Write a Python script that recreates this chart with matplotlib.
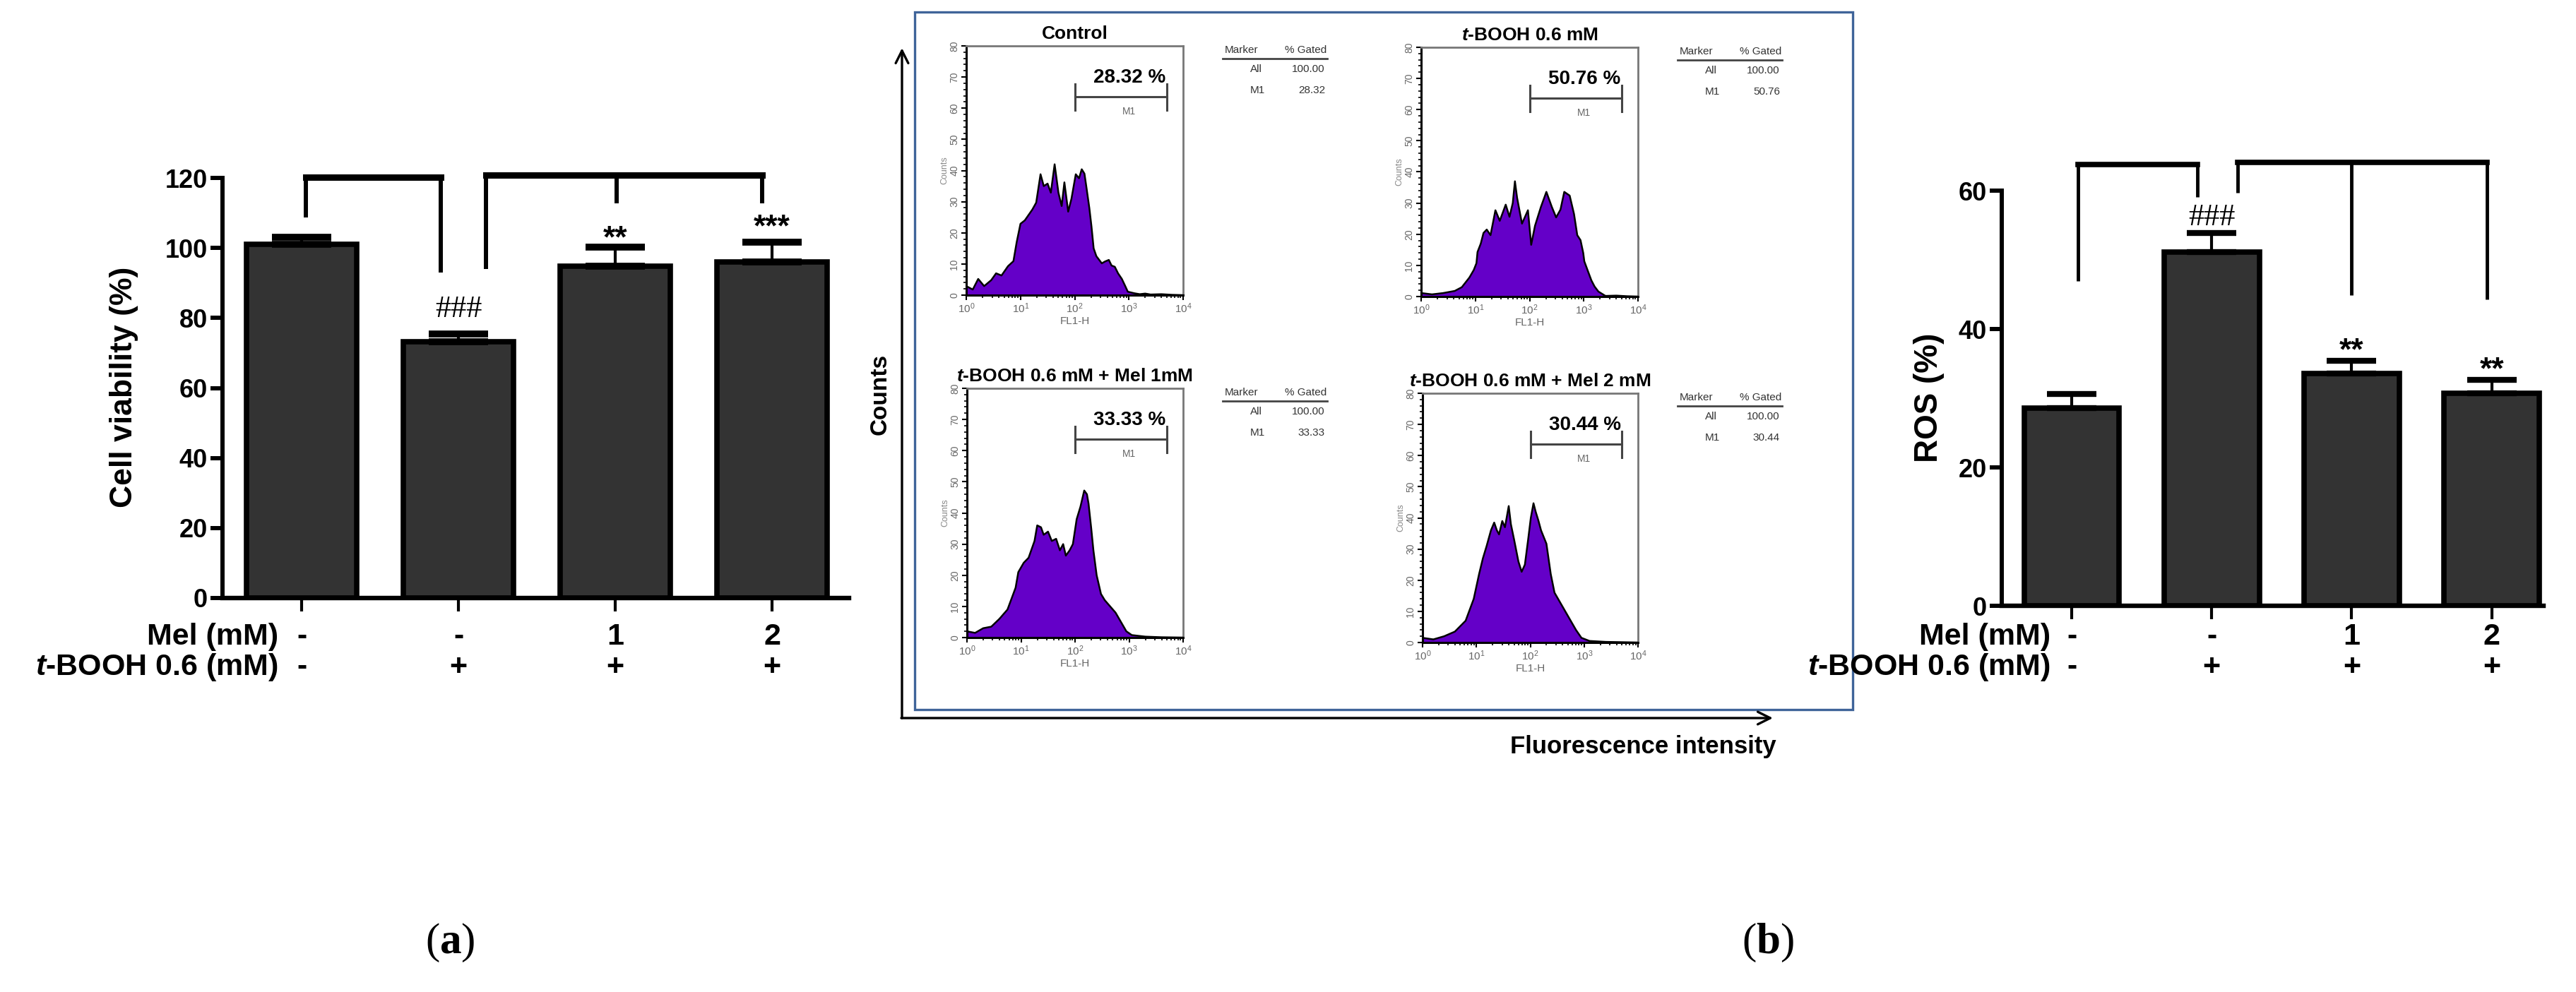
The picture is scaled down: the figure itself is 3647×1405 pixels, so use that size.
import numpy as np
import matplotlib
matplotlib.use('Agg')
import matplotlib.pyplot as plt
from matplotlib.patches import Rectangle
from matplotlib.ticker import MultipleLocator
from matplotlib.transforms import blended_transform_factory

plt.rcParams['font.family'] = ['Liberation Sans', 'DejaVu Sans']
plt.rcParams['mathtext.fontset'] = 'custom'
plt.rcParams['mathtext.rm'] = 'Liberation Sans'
plt.rcParams['mathtext.it'] = 'Liberation Sans:italic:bold'
plt.rcParams['mathtext.bf'] = 'Liberation Serif:bold'
plt.rcParams['mathtext.sf'] = 'Liberation Sans'

# ---------------- data ----------------
mel_labels = ['-', '-', '1', '2']
tbooh_labels = ['-', '+', '+', '+']

viability = [101.0, 73.2, 94.8, 96.0]
viability_err = [2.0, 2.3, 5.4, 5.6]
viab_marks = ['', '###', '**', '***']
viab_mark_y = [0, 82.4, 105.0, 108.3]
# brackets: leg x positions, leg bottoms, top level
viab_br1_x = [0.027, 0.887]
viab_br1_bottom = [108.7, 92.9]
viab_br1_top = 120.3
viab_br2_x = [1.176, 2.009, 2.937]
viab_br2_bottom = [93.9, 112.8, 112.8]
viab_br2_top = 120.9

ros = [28.6, 51.1, 33.6, 30.7]
ros_err = [2.0, 2.8, 1.8, 2.0]
ros_marks = ['', '###', '**', '**']
ros_mark_y = [0, 56.1, 38.0, 35.3]
ros_br1_x = [0.045, 0.90]
ros_br1_bottom = [46.9, 59.1]
ros_br1_top = 63.8
ros_br2_x = [1.185, 2.0, 2.965]
ros_br2_bottom = [59.7, 44.9, 44.3]
ros_br2_top = 64.1

flow_titles = ['Control', r'$\it{t}$-BOOH 0.6 mM',
               r'$\it{t}$-BOOH 0.6 mM + Mel 1mM', r'$\it{t}$-BOOH 0.6 mM + Mel 2 mM']
gated_pct = [28.32, 50.76, 33.33, 30.44]

# histogram outlines: log10(FL1-H) and counts
ctrl_log_fl = [0.0, 0.12, 0.22, 0.33, 0.46, 0.55, 0.65, 0.77, 0.87, 0.93, 1.0, 1.08, 1.16, 1.22,
               1.29, 1.37, 1.43, 1.5, 1.56, 1.63, 1.70, 1.76, 1.81, 1.88, 1.94, 2.02, 2.08, 2.13,
               2.18, 2.22, 2.27, 2.31, 2.35, 2.4, 2.5, 2.56, 2.63, 2.68, 2.74, 2.8, 2.87, 2.93,
               2.98, 3.1, 3.2, 3.3, 3.4, 3.6, 3.8, 4.0]
ctrl_counts = [2.9, 1.8, 5.2, 2.9, 4.8, 7.0, 6.3, 9.3, 10.9, 17.0, 22.9, 24.0, 26.0, 27.5,
               29.7, 38.8, 35.0, 35.8, 32.9, 42.0, 32.9, 28.6, 36.2, 26.8, 30.9, 38.8, 37.5, 40.4,
               39.0, 34.2, 28.0, 22.0, 15.0, 12.5, 10.2, 10.8, 11.3, 9.5, 9.1, 7.0, 5.2, 3.0,
               1.1, 0.6, 0.3, 0.5, 0.2, 0.3, 0.1, 0.0]

tb_log_fl = [0.01, 0.2, 0.4, 0.62, 0.75, 0.89, 0.97, 1.02, 1.04, 1.1, 1.15, 1.21, 1.28, 1.37,
             1.45, 1.56, 1.63, 1.69, 1.73, 1.77, 1.86, 1.97, 2.03, 2.1, 2.21, 2.31, 2.41, 2.49,
             2.57, 2.64, 2.74, 2.82, 2.88, 2.94, 2.99, 3.01, 3.08, 3.14, 3.2, 3.27, 3.4, 3.6,
             3.8, 4.0]
tb_counts = [1.1, 0.7, 1.1, 1.8, 3.0, 6.1, 8.5, 10.7, 14.3, 17.0, 20.4, 21.5, 19.7, 27.7,
             24.3, 29.5, 25.6, 30.0, 37.0, 31.7, 23.4, 27.7, 16.6, 22.7, 28.8, 33.6, 28.8, 25.4,
             27.9, 33.6, 32.4, 26.5, 19.7, 18.1, 14.0, 11.3, 8.0, 5.2, 3.2, 1.6, 0.2, 0.3,
             0.1, 0.0]

mel1_log_fl = [0.0, 0.15, 0.3, 0.45, 0.6, 0.75, 0.9, 0.95, 1.05, 1.14, 1.25, 1.3, 1.37, 1.42,
               1.5, 1.57, 1.65, 1.72, 1.78, 1.83, 1.9, 1.96, 2.03, 2.1, 2.17, 2.22, 2.25, 2.3,
               2.34, 2.4, 2.48, 2.55, 2.65, 2.75, 2.85, 2.95, 3.05, 3.3, 3.6, 4.0]
mel1_counts = [2.0, 1.5, 3.0, 3.5, 6.0, 9.0, 16.0, 21.0, 24.0, 25.6, 31.0, 36.0, 35.4, 33.0,
               34.0, 31.0, 31.7, 28.0, 30.0, 26.3, 28.0, 30.0, 38.0, 42.0, 47.2, 46.0, 43.0, 35.0,
               28.0, 20.0, 14.0, 12.0, 10.0, 8.0, 5.0, 2.0, 0.8, 0.3, 0.1, 0.0]

mel2_log_fl = [0.0, 0.2, 0.4, 0.6, 0.8, 0.95, 1.05, 1.12, 1.19, 1.27, 1.33, 1.38, 1.42, 1.48,
               1.53, 1.6, 1.64, 1.7, 1.78, 1.84, 1.9, 1.96, 2.01, 2.06, 2.1, 2.15, 2.2, 2.3,
               2.38, 2.45, 2.55, 2.65, 2.75, 2.85, 2.95, 3.1, 3.4, 4.0]
mel2_counts = [1.5, 1.0, 2.0, 3.5, 7.0, 14.0, 22.0, 27.0, 31.0, 36.0, 38.5, 36.0, 34.7, 39.0,
               37.0, 43.8, 38.0, 33.0, 26.0, 22.7, 25.0, 33.0, 40.0, 44.7, 42.0, 39.2, 36.0, 31.7,
               22.0, 16.0, 13.0, 10.0, 7.0, 4.0, 1.5, 0.5, 0.2, 0.0]

# ---------------- layout ----------------
W, H = 3647, 1405
DPI = 100


def px_rect(x0, y0, x1, y1):
    return [x0 / W, 1 - y1 / H, (x1 - x0) / W, (y1 - y0) / H]


fig = plt.figure(figsize=(W / DPI, H / DPI), dpi=DPI)
fig.patch.set_facecolor('white')
ov = fig.add_axes([0, 0, 1, 1], zorder=0)
ov.set_xlim(0, W)
ov.set_ylim(H, 0)
ov.axis('off')


def bar_panel(rect, vals, errs, ylim, yticks, width, capsize, capthick,
              marks, mark_y, br1, br2, xlim, row_x, top_lw, leg_lw):
    ax = fig.add_axes(rect, zorder=2)
    ax.patch.set_alpha(0)
    x = np.arange(len(vals))
    ax.bar(x, vals, width=width, color='#333333', edgecolor='black', linewidth=5.5, zorder=2)
    ax.errorbar(x, vals, yerr=[np.zeros(len(vals)), errs], fmt='none', ecolor='black',
                elinewidth=3, capsize=capsize, capthick=capthick, zorder=3)
    ax.set_xlim(*xlim)
    ax.set_ylim(*ylim)
    ax.set_yticks(yticks)
    ax.set_xticks(x)
    ax.set_xticklabels([])
    for s in ['top', 'right']:
        ax.spines[s].set_visible(False)
    ax.spines['left'].set_linewidth(4.3)
    ax.spines['bottom'].set_linewidth(4.6)
    ax.tick_params(axis='y', length=12, width=4.3, labelsize=26, pad=3)
    ax.tick_params(axis='x', length=14, width=3)
    for lab in ax.get_yticklabels():
        lab.set_fontweight('bold')
    # significance marks
    for xi, m, my in zip(x, marks, mark_y):
        if not m:
            continue
        if m.startswith('#'):
            ax.annotate(m, xy=(xi, my), xytext=(0, 0), textcoords='offset points',
                        ha='center', va='center', fontsize=32, family='Liberation Serif',
                        annotation_clip=False)
        else:
            ax.annotate(m, xy=(xi, my), xytext=(0, -9), textcoords='offset points',
                        ha='center', va='center', fontsize=32, fontweight='bold',
                        annotation_clip=False)
    # brackets
    for bx, bb, bt in (br1, br2):
        ax.plot([bx[0], bx[-1]], [bt, bt], color='black', lw=top_lw,
                solid_capstyle='projecting', clip_on=False, zorder=4)
        for xx, yb in zip(bx, bb):
            ax.plot([xx, xx], [yb, bt], color='black', lw=leg_lw,
                    solid_capstyle='butt', clip_on=False, zorder=4)
    # row labels
    tr = blended_transform_factory(ax.transData, ov.transData)
    ax.text(row_x, 902, 'Mel (mM)', transform=tr, ha='right', va='center',
            fontsize=31, fontweight='bold')
    ax.text(row_x, 945, r'$\it{t}$-BOOH 0.6 (mM)', transform=tr, ha='right', va='center',
            fontsize=31, fontweight='bold')
    for xi, a, b in zip(x, mel_labels, tbooh_labels):
        ax.text(xi, 902, a, transform=tr, ha='center', va='center', fontsize=31, fontweight='bold')
        ax.text(xi, 945, b, transform=tr, ha='center', va='center', fontsize=31, fontweight='bold')
    return ax


# panel (a)
ax_a = bar_panel(px_rect(315, 252, 1202, 847), viability, viability_err, (0, 120),
                 np.arange(0, 121, 20), 0.70, 30, 7, viab_marks, viab_mark_y,
                 (viab_br1_x, viab_br1_bottom, viab_br1_top),
                 (viab_br2_x, viab_br2_bottom, viab_br2_top),
                 (-0.505, 3.49), -0.15, 6.5, 4.3)
ov.text(176, 548, 'Cell viability (%)', rotation=90, ha='center', va='center',
        fontsize=32, fontweight='bold')

# panel (c)
ax_c = bar_panel(px_rect(2834, 270, 3601, 858), ros, ros_err, (0, 60),
                 np.arange(0, 61, 20), 0.68, 25, 6, ros_marks, ros_mark_y,
                 (ros_br1_x, ros_br1_bottom, ros_br1_top),
                 (ros_br2_x, ros_br2_bottom, ros_br2_top),
                 (-0.5, 3.37), -0.15, 5.5, 3.5)
ov.text(2731, 563, 'ROS (%)', rotation=90, ha='center', va='center',
        fontsize=33, fontweight='bold')

# ---------------- panel (b): flow cytometry ----------------
ov.add_patch(Rectangle((1295, 17), 2623 - 1295, 1005 - 17, fill=False,
                       edgecolor='#3f6499', lw=2.4, zorder=1))
ov.annotate('', xy=(1277, 68), xytext=(1277, 1017),
            arrowprops=dict(arrowstyle='->', lw=2.4, color='black', mutation_scale=32,
                            shrinkA=0, shrinkB=0))
ov.annotate('', xy=(2510, 1017), xytext=(1276, 1017),
            arrowprops=dict(arrowstyle='->', lw=2.4, color='black', mutation_scale=32,
                            shrinkA=0, shrinkB=0))
ov.text(1246, 558, 'Counts', rotation=90, ha='center', va='center', fontsize=24,
        fontweight='bold')
ov.text(2326, 1058, 'Fluorescence intensity', ha='center', va='center', fontsize=25,
        fontweight='bold')

frames = [(1368, 65, 1675, 418), (2012, 67, 2319, 420),
          (1369, 550, 1675, 903), (2014, 557, 2319, 910)]
hist_x = [ctrl_log_fl, tb_log_fl, mel1_log_fl, mel2_log_fl]
hist_y = [ctrl_counts, tb_counts, mel1_counts, mel2_counts]

for fr, dx, cy, title, pct in zip(frames, hist_x, hist_y, flow_titles, gated_pct):
    ax = fig.add_axes(px_rect(*fr), zorder=2)
    xs = 10.0 ** np.asarray(dx)
    ax.fill_between(xs, cy, 0, color='#6400c8', lw=0, zorder=2)
    ax.plot(xs, cy, color='black', lw=1.8, zorder=3)
    ax.set_xscale('log')
    ax.set_xlim(1, 1e4)
    ax.set_ylim(0, 80)
    ax.set_yticks(np.arange(0, 81, 10))
    ax.yaxis.set_minor_locator(MultipleLocator(2))
    for s in ['top', 'right']:
        ax.spines[s].set_color('#777777')
        ax.spines[s].set_linewidth(2.0)
    ax.spines['left'].set_linewidth(2.2)
    ax.spines['bottom'].set_linewidth(2.2)
    ax.tick_params(axis='both', which='major', length=5, width=1.5, labelsize=11,
                   labelcolor='#666666', pad=2)
    ax.tick_params(axis='both', which='minor', length=3, width=1.2)
    ax.tick_params(axis='y', labelrotation=90, labelsize=10)
    for lab in ax.get_yticklabels():
        lab.set_va('center')
    ax.set_xlabel('FL1-H', fontsize=11, color='#666666', labelpad=1)
    ax.set_ylabel('Counts', fontsize=9, color='#888888', labelpad=1)
    ax.annotate(title, xy=(0.5, 1), xycoords='axes fraction', xytext=(0, 12),
                textcoords='offset points', ha='center', va='center', fontsize=19,
                fontweight='bold')
    # M1 gate
    g0, g1 = 1e2, 10 ** 3.7
    ax.plot([g0, g1], [63.6, 63.6], color='#444444', lw=2.2, zorder=4)
    ax.plot([g0, g0], [59.4, 67.8], color='#444444', lw=2.2, zorder=4)
    ax.plot([g1, g1], [59.4, 67.8], color='#444444', lw=2.2, zorder=4)
    ax.text(10 ** 3.0, 59.0, 'M1', ha='center', va='center', fontsize=10, color='#666666')
    ax.text(10 ** 3.68, 69.8, f'{pct:.2f} %', ha='right', va='center', fontsize=20,
            fontweight='bold')
    # statistics table
    x0, y0 = fr[2], fr[1]
    ov.text(x0 + 59, y0 + 6, 'Marker', ha='left', va='center', fontsize=11, color='#333333')
    ov.text(x0 + 203, y0 + 6, '% Gated', ha='right', va='center', fontsize=11, color='#333333')
    ov.plot([x0 + 56, x0 + 204], [y0 + 18, y0 + 18], color='#444444', lw=2)
    ov.text(x0 + 95, y0 + 33, 'All', ha='left', va='center', fontsize=11, color='#333333')
    ov.text(x0 + 201, y0 + 33, '100.00', ha='right', va='center', fontsize=11, color='#333333')
    ov.text(x0 + 95, y0 + 63, 'M1', ha='left', va='center', fontsize=11, color='#333333')
    ov.text(x0 + 201, y0 + 63, f'{pct:.2f}', ha='right', va='center', fontsize=11,
            color='#333333')

# panel letters
ov.text(637, 1335, r'($\mathbf{a}$)', ha='center', va='center', fontsize=44,
        family='Liberation Serif')
ov.text(2503, 1335, r'($\mathbf{b}$)', ha='center', va='center', fontsize=44,
        family='Liberation Serif')

fig.savefig('out.png', dpi=DPI, facecolor='white')
